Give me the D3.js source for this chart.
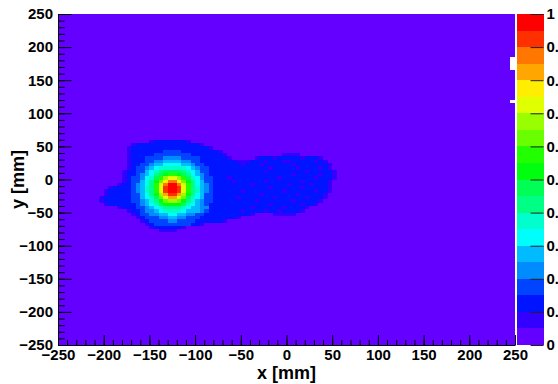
<!DOCTYPE html>
<html>
<head>
<meta charset="utf-8">
<script src="https://cdn.jsdelivr.net/npm/d3@7"></script>
<style>
  html, body { margin: 0; padding: 0; background: #fff; }
  svg { display: block; font-family: "Liberation Sans", Arial, Helvetica, sans-serif; font-weight: bold; }
</style>
</head>
<body>
<svg id="chart" width="558" height="384"></svg>
<script>
// ---- histogram binning (mm) ----
const xRange = [-250, 250];
const yRange = [-250, 250];
const binWidth = 5;

// normalised content of every bin outside the detailed window
const baselineContent = 0.02;

// detailed window: lower x edge of its first column, upper y edge of its first row
const windowX0 = -205;
const windowYTop = 65;
// one character per bin, content class 0..9,a..j (class k holds values in [k/20,(k+1)/20))
const windowRows = [
  "000000" + "00000000000000000000" + "000000000000000000000000000",
  "000000" + "00000122222221000000" + "000000000000000000000000000",
  "000000" + "01222222222222221000" + "000000000000000000000000000",
  "000000" + "12222222222222222210" + "000000000000000000000000000",
  "000000" + "12222222333322222222" + "100000000000000000000000000",
  "000000" + "12222233333333222222" + "210000000000001111000000000",
  "000000" + "12223333444433332222" + "221000001222122222122210000",
  "000000" + "12223344555544332222" + "222211122212221122222121000",
  "000000" + "12233455666655433222" + "222221222122222212222222100",
  "000000" + "12334567777776543322" + "222222222221222221222212100",
  "000001" + "22335678999987653322" + "222222222212222222212222210",
  "000001" + "22345689abba98654322" + "222222222222222212222212210",
  "000001" + "2334679bdeedb9764332" + "221222222222212222222122210",
  "000001" + "233568acfhhfca865332" + "222122222212222222122222100",
  "000012" + "234568behjjheb865432" + "222222212222222122221222100",
  "001222" + "234578beijjieb875432" + "222222222221222222122222100",
  "012222" + "234578beijjieb875432" + "222221222222221222222122100",
  "012222" + "233568adgiigda865332" + "222222222122222221222221000",
  "122222" + "2335679ceggec9765332" + "222212222222122222212221000",
  "122222" + "2334578acddca8754332" + "222222221222222212222210000",
  "012222" + "22345679aaaa97654322" + "222222222221222222122100000",
  "000012" + "22334567888876554422" + "222222212222221222210000000",
  "000000" + "12234456777765554322" + "222221222212212222100000000",
  "000000" + "01233445566554433222" + "222222210000111110000000000",
  "000000" + "00123334455443332222" + "222210000000000000000000000",
  "000000" + "00012333344333322222" + "210000000000000000000000000",
  "000000" + "00001233333333221000" + "000000000000000000000000000",
  "000000" + "00000122222210000000" + "000000000000000000000000000",
  "000000" + "00000001111000000000" + "000000000000000000000000000"
];

// bins without entries (lower edges, mm) - left blank
const emptyBinX = [245, 245, 245, 245, 245];
const emptyBinY = [115, 165, 170, 175, 180];

// axis ticks
const xTickValues = [-250, -200, -150, -100, -50, 0, 50, 100, 150, 200, 250];
const yTickValues = [-250, -200, -150, -100, -50, 0, 50, 100, 150, 200, 250];
const zTickValues = [0, 0.1, 0.2, 0.3, 0.4, 0.5, 0.6, 0.7, 0.8, 0.9, 1];
const xTitle = "x [mm]";
const yTitle = "y [mm]";

// ---- layout ----
const svg = d3.select("#chart");
const plot = { left: 58, right: 515, top: 14, bottom: 345 };
const bar = { left: 517, right: 543.5 };

const x = d3.scaleLinear().domain(xRange).range([plot.left, plot.right]);
const y = d3.scaleLinear().domain(yRange).range([plot.bottom, plot.top]);
const z = d3.scaleLinear().domain([0, 1]).range([plot.bottom, plot.top]);

// rainbow "pretty" palette (violet -> red), 20 contour levels
const nLevels = 20;
const paletteColors = d3.range(nLevels).map(i => {
  const k = Math.floor((i + 0.99) * 50 / nLevels);
  const hue = k >= 49 ? 0 : 280 - (k + 1) * 5.6;
  return d3.hsl(hue, 1, 0.5).formatHex();
});
const color = d3.scaleQuantize().domain([0, 1]).range(paletteColors);

// ---- build the bins ----
const classChars = "0123456789abcdefghij";
const emptyKeys = new Set(emptyBinX.map((bx, i) => bx + ":" + emptyBinY[i]));
const nx = Math.round((xRange[1] - xRange[0]) / binWidth);
const ny = Math.round((yRange[1] - yRange[0]) / binWidth);
const bins = [];
for (let ix = 0; ix < nx; ix++) {
  for (let iy = 0; iy < ny; iy++) {
    const x0 = xRange[0] + ix * binWidth;
    const y0 = yRange[0] + iy * binWidth;
    if (emptyKeys.has(x0 + ":" + y0)) continue;
    let v = baselineContent;
    const col = Math.round((x0 - windowX0) / binWidth);
    const row = Math.round((windowYTop - (y0 + binWidth)) / binWidth);
    if (row >= 0 && row < windowRows.length && col >= 0 && col < windowRows[row].length) {
      const k = classChars.indexOf(windowRows[row][col]);
      if (k >= 0) v = (k + 0.5) / nLevels;
    }
    bins.push({ x0, y0, v });
  }
}

// ---- cells ----
svg.append("g")
  .attr("shape-rendering", "crispEdges")
  .selectAll("rect")
  .data(bins)
  .join("rect")
  .attr("x", d => x(d.x0))
  .attr("y", d => y(d.y0 + binWidth))
  .attr("width", d => x(d.x0 + binWidth) - x(d.x0))
  .attr("height", d => y(d.y0) - y(d.y0 + binWidth))
  .attr("fill", d => color(d.v));

// ---- axes ----
const fmt = d3.format("d");
const minorX = d3.range(xRange[0], xRange[1] + 1, 10);
const minorY = d3.range(yRange[0], yRange[1] + 1, 10);

function styleAxis(g) {
  g.selectAll("line").attr("stroke", "#000").attr("stroke-width", 1);
  g.selectAll("path.domain").attr("stroke", "#000").attr("stroke-width", 1);
  g.selectAll("text").attr("fill", "#000").style("font-size", "15px").style("font-weight", "bold");
}

// y axis: minor then major ticks pointing into the frame
svg.append("g")
  .attr("transform", `translate(${plot.left},0)`)
  .call(d3.axisLeft(y).tickValues(minorY).tickSize(-6.8).tickFormat(""))
  .call(g => g.select(".domain").remove())
  .call(styleAxis);
svg.append("g")
  .attr("transform", `translate(${plot.left},0)`)
  .call(d3.axisLeft(y).tickValues(yTickValues).tickSizeInner(-13.7).tickSizeOuter(0).tickPadding(5).tickFormat(fmt))
  .call(styleAxis);

// x axis
svg.append("g")
  .attr("transform", `translate(0,${plot.bottom})`)
  .call(d3.axisBottom(x).tickValues(minorX).tickSize(-5).tickFormat(""))
  .call(g => g.select(".domain").remove())
  .call(styleAxis);
svg.append("g")
  .attr("transform", `translate(0,${plot.bottom})`)
  .call(d3.axisBottom(x).tickValues(xTickValues).tickSizeInner(-10).tickSizeOuter(0).tickPadding(4).tickFormat(fmt))
  .call(styleAxis);

// axis titles
svg.append("text")
  .attr("x", (plot.left + plot.right) / 2)
  .attr("y", 379)
  .attr("text-anchor", "middle")
  .style("font-size", "18px")
  .text(xTitle);
svg.append("text")
  .attr("transform", `translate(23.5,${(plot.top + plot.bottom) / 2}) rotate(-90)`)
  .attr("text-anchor", "middle")
  .style("font-size", "18px")
  .text(yTitle);

// ---- colour bar ----
svg.append("g")
  .attr("shape-rendering", "crispEdges")
  .selectAll("rect")
  .data(paletteColors)
  .join("rect")
  .attr("x", bar.left)
  .attr("width", bar.right - bar.left)
  .attr("y", (c, i) => z((i + 1) / nLevels))
  .attr("height", (c, i) => z(i / nLevels) - z((i + 1) / nLevels))
  .attr("fill", c => c);

svg.append("g")
  .attr("transform", `translate(${bar.right},0)`)
  .call(d3.axisRight(z).tickValues(zTickValues).tickSizeInner(-13).tickSizeOuter(0).tickPadding(3)
    .tickFormat(d => d === 0 ? "0" : d === 1 ? "1" : d.toFixed(1)))
  .call(g => g.select(".domain").remove())
  .call(styleAxis)
  .call(g => g.selectAll("line").attr("stroke", "#222"));
</script>
</body>
</html>
